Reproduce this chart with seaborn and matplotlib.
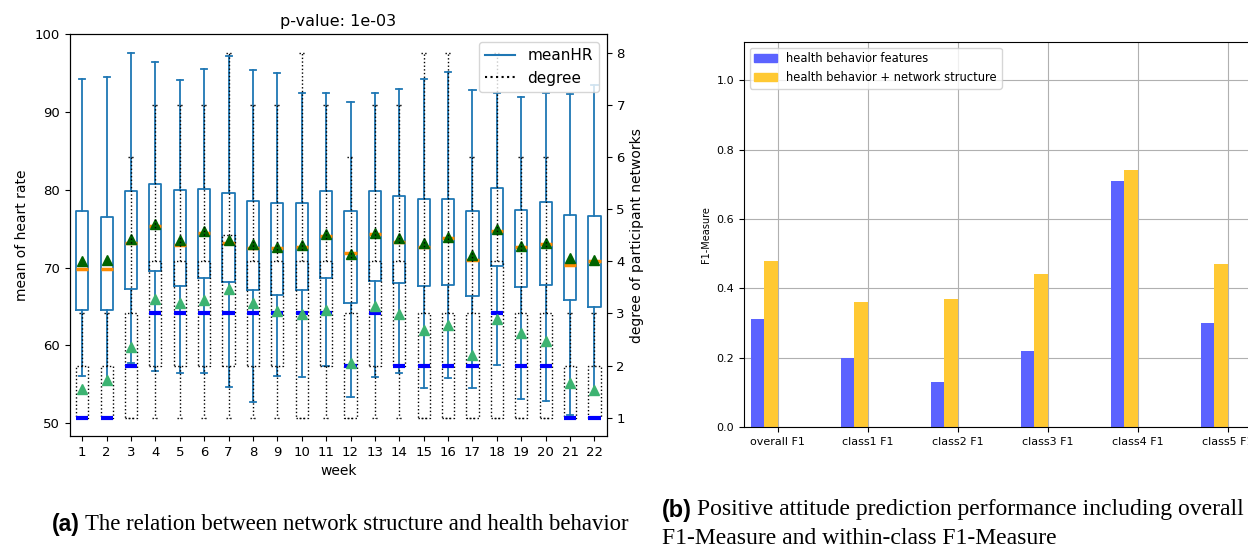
"""Weekly heart rate / network degree boxes next to F1 bars, with paper captions."""
import matplotlib

matplotlib.use("Agg")
import matplotlib.pyplot as plt
import numpy as np
import pandas as pd
import seaborn as sns
from matplotlib.lines import Line2D
from matplotlib.patches import Patch

# ---- left panel: box statistics per week ----
weeks = list(range(1, 23))

hr_whishi = [94.2, 94.5, 97.6, 96.5, 94.1, 95.6, 97.2, 95.4, 95.0, 92.4, 92.4,
             91.3, 92.5, 93.0, 94.3, 95.2, 92.9, 92.5, 92.0, 92.4, 92.3, 93.5]
hr_q3 = [77.3, 76.5, 79.8, 80.7, 80.0, 80.1, 79.6, 78.6, 78.3, 78.3, 79.9,
         77.3, 79.9, 79.2, 78.8, 78.8, 77.3, 80.3, 77.4, 78.4, 76.8, 76.6]
hr_med = [69.8, 69.8, 73.2, 75.3, 72.9, 74.5, 73.2, 72.5, 72.5, 72.6, 74.1,
          71.9, 74.3, 73.3, 72.6, 73.8, 71.0, 74.7, 72.6, 73.0, 70.4, 70.9]
hr_mean = [70.9, 71.0, 73.7, 75.6, 73.6, 74.7, 73.6, 73.1, 72.6, 72.9, 74.3,
           71.8, 74.4, 73.8, 73.2, 74.0, 71.6, 75.0, 72.8, 73.2, 71.3, 71.0]
hr_q1 = [64.6, 64.6, 67.2, 69.6, 67.6, 68.7, 68.1, 67.1, 66.5, 67.1, 68.7,
         65.4, 68.3, 68.0, 67.6, 67.8, 66.3, 70.2, 67.5, 67.8, 65.9, 65.0]
hr_whislo = [56.0, 54.9, 57.7, 56.7, 56.4, 56.4, 54.7, 52.7, 56.1, 55.9, 57.3,
             53.3, 55.9, 56.5, 54.5, 55.8, 54.5, 57.5, 53.1, 52.9, 51.0, 53.8]

dg_whishi = [3, 3, 6, 7, 7, 7, 8, 7, 7, 8, 7, 6, 7, 7, 8, 8, 6, 8, 6, 6, 3, 3]
dg_q3 = [2, 2, 3, 4, 4, 4, 4.5, 4, 4, 4, 4, 3, 4, 4, 3, 3, 3, 4, 3, 3, 2, 2]
dg_med = [1, 1, 2, 3, 3, 3, 3, 3, 3, 3, 3, 2, 3, 2, 2, 2, 2, 3, 2, 2, 1, 1]
dg_mean = [1.56, 1.72, 2.36, 3.28, 3.19, 3.25, 3.46, 3.19, 3.04, 2.98, 3.07,
           2.05, 3.14, 2.99, 2.68, 2.77, 2.21, 2.90, 2.63, 2.48, 1.67, 1.54]
dg_q1 = [1, 1, 1, 2, 2, 2, 2, 2, 2, 1, 2, 1, 2, 2, 1, 1, 1, 1, 1, 1, 1, 1]
dg_whislo = [1] * 22

# ---- right panel: F1 scores ----
metrics = ["overall F1", "class1 F1", "class2 F1", "class3 F1", "class4 F1", "class5 F1"]
series_names = ["health behavior features", "health behavior + network structure"]
f1_health = [0.31, 0.20, 0.13, 0.22, 0.71, 0.30]
f1_network = [0.48, 0.36, 0.37, 0.44, 0.74, 0.47]


def box_stats(whislo, q1, med, q3, whishi, mean):
    return [dict(whislo=a, q1=b, med=c, q3=d, whishi=e, mean=f, fliers=[])
            for a, b, c, d, e, f in zip(whislo, q1, med, q3, whishi, mean)]


fig = plt.figure(figsize=(12.48, 5.48), dpi=100)

# left: meanHR on the left axis, degree on a twin axis
ax = fig.add_axes([0.0561, 0.2044, 0.430, 0.733])
ax.bxp(
    box_stats(hr_whislo, hr_q1, hr_med, hr_q3, hr_whishi, hr_mean),
    positions=weeks, widths=0.5, showmeans=True, showfliers=False,
    boxprops=dict(color="#1f77b4", linewidth=1.3),
    whiskerprops=dict(color="#1f77b4", linewidth=1.3),
    capprops=dict(color="#1f77b4", linewidth=1.3),
    medianprops=dict(color="#ff8c00", linewidth=2.5),
    meanprops=dict(marker="^", markerfacecolor="darkgreen", markeredgecolor="darkgreen", markersize=7),
)
ax.set_xlim(0.5, 22.5)
ax.set_ylim(48.35, 100)
ax.set_yticks([50, 60, 70, 80, 90, 100])
ax.tick_params(labelsize=9.5)
ax.set_xlabel("week", fontsize=10)
ax.set_ylabel("mean of heart rate", fontsize=10)
ax.set_title("p-value: 1e-03", fontsize=11.5)

ax_r = ax.twinx()
ax_r.bxp(
    box_stats(dg_whislo, dg_q1, dg_med, dg_q3, dg_whishi, dg_mean),
    positions=weeks, widths=0.5, showmeans=True, showfliers=False, manage_ticks=False,
    boxprops=dict(color="black", linestyle=":", linewidth=1.0),
    whiskerprops=dict(color="black", linestyle=":", linewidth=1.0),
    capprops=dict(color="black", linestyle=":", linewidth=1.0),
    medianprops=dict(color="blue", linewidth=3),
    meanprops=dict(marker="^", markerfacecolor="mediumseagreen", markeredgecolor="mediumseagreen", markersize=7),
)
ax_r.set_xlim(0.5, 22.5)
ax_r.set_ylim(0.65, 8.35)
ax_r.tick_params(labelsize=9.5)
ax_r.set_ylabel("degree of participant networks", fontsize=10)
leg = ax_r.legend(
    [Line2D([], [], color="#1f77b4", linewidth=1.5), Line2D([], [], color="black", linestyle=":", linewidth=1.5)],
    ["meanHR", "degree"], loc="upper right", fontsize=11,
)
leg.set_zorder(10)

# right: grouped F1 bars (two of four dodge slots, as in the source figure)
df = pd.DataFrame({
    "metric": metrics * 2,
    "features": [series_names[0]] * len(metrics) + [series_names[1]] * len(metrics),
    "F1": f1_health + f1_network,
})
colors = ["#5b63ff", "#ffc933"]
pad_levels = ["_pad1", "_pad2"]
palette = {series_names[0]: colors[0], series_names[1]: colors[1],
           pad_levels[0]: "white", pad_levels[1]: "white"}

bx = fig.add_axes([0.596, 0.2208, 0.415, 0.7026])
sns.barplot(data=df, x="metric", y="F1", hue="features", order=metrics,
            hue_order=series_names + pad_levels, palette=palette, width=0.6,
            saturation=1, errorbar=None, legend=False, ax=bx)
bx.set_xlim(-0.377, 5.377)
bx.set_ylim(0, 1.11)
bx.set_yticks(np.arange(0, 1.01, 0.2))
bx.grid(True, color="#b0b0b0", linewidth=0.8)
bx.set_axisbelow(True)
bx.tick_params(labelsize=8)
bx.set_xlabel("")
bx.set_ylabel("F1-Measure", fontsize=7)
bx.legend([Patch(color=c) for c in colors], series_names, loc="upper left", fontsize=8.3)

# captions
fig.text(52 / 1248, 1 - 524 / 548, "(a)", family="Liberation Sans", weight="bold", fontsize=16.4, va="center")
fig.text(85 / 1248, 1 - 524 / 548, "The relation between network structure and health behavior",
         family="Liberation Serif", fontsize=16.4, va="center")
fig.text(662 / 1248, 1 - 510 / 548, "(b)", family="Liberation Sans", weight="bold", fontsize=16.8, va="center")
fig.text(697 / 1248, 1 - 510 / 548, "Positive attitude prediction performance including overall",
         family="Liberation Serif", fontsize=17, va="center")
fig.text(662 / 1248, 1 - 538 / 548, "F1-Measure and within-class F1-Measure",
         family="Liberation Serif", fontsize=17, va="center")

fig.savefig("out.png", dpi=100)
